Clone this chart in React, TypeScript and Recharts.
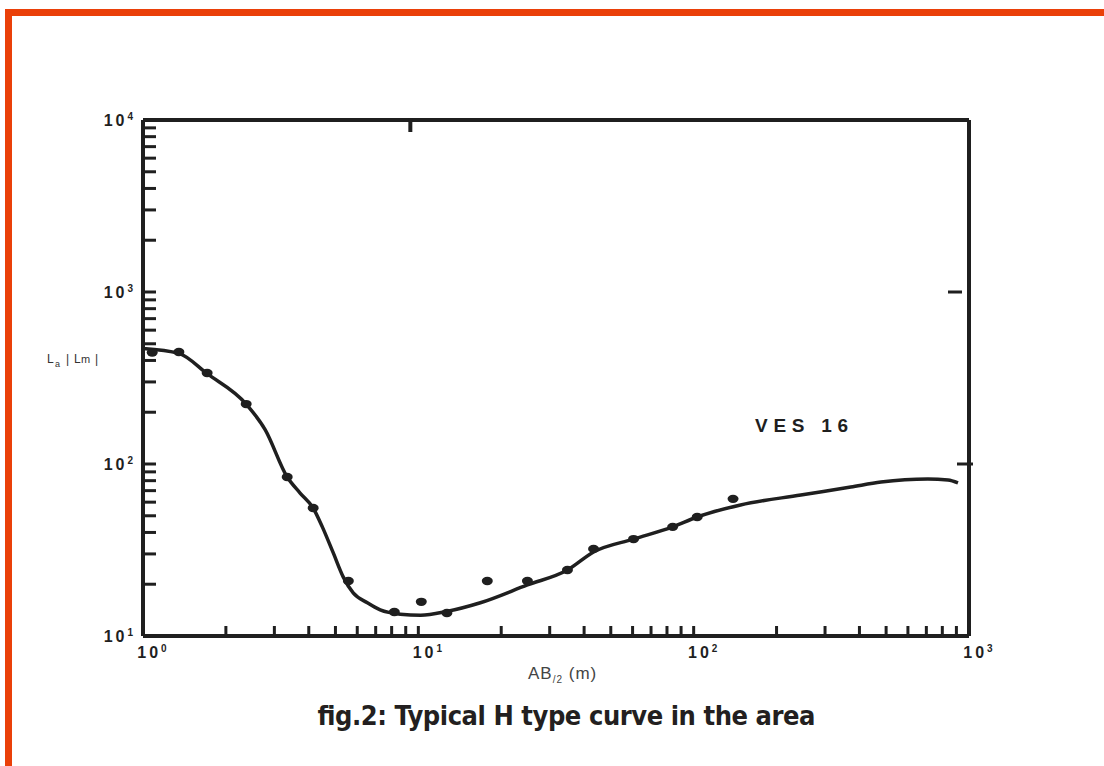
import React from 'react';
import { ComposedChart, Line, Scatter, XAxis, YAxis } from 'recharts';

// VES 16 sounding: AB/2 (m) against apparent resistivity, both on log axes

// fitted model curve
const curveAB = [1.0, 1.35, 1.71, 2.37, 2.78, 3.34, 3.72, 4.15, 4.48, 4.91, 5.34, 5.8, 6.53, 7.27, 8.6, 10.2, 12.7, 16.8, 24.9, 34.8, 43.3, 60.5, 83.9, 103, 148, 245, 372, 479, 709, 839, 912];
const curveRho = [470, 440, 335, 223, 158, 84, 67.8, 55.5, 43.1, 30.4, 22, 17.8, 15.6, 14.2, 13.4, 13.2, 13.9, 15.6, 19.8, 24.2, 30.8, 36.6, 43.1, 49.2, 57.8, 66, 73.4, 78.5, 81.8, 80.7, 77.6];

// field readings
const obsAB = [1.08, 1.35, 1.71, 2.37, 3.34, 4.15, 5.57, 8.18, 10.25, 12.7, 17.8, 24.9, 34.8, 43.3, 60.5, 83.9, 103, 139];
const obsRho = [445, 448, 338, 223, 84, 55.5, 20.9, 13.8, 15.8, 13.6, 20.9, 20.9, 24.2, 32.1, 36.6, 43.1, 49.2, 62.7];

const xTicks = [1, 2, 3, 4, 5, 6, 7, 8, 9, 10, 20, 30, 40, 50, 60, 70, 80, 90, 100, 200, 300, 400, 500, 600, 700, 800, 900, 1000];
const yTicks = [10, 20, 30, 40, 50, 60, 70, 80, 90, 100, 200, 300, 400, 500, 600, 700, 800, 900, 1000, 2000, 3000, 4000, 5000, 6000, 7000, 8000, 9000, 10000];
const xMajor = [1, 10, 100, 1000];
const xMajorLabels = ['0', '1', '2', '3'];
const yMajor = [10, 100, 1000, 10000];
const yMajorLabels = ['1', '2', '3', '4'];
const rightTicks = [100, 1000];
const topTicks = [10];

const curve = curveAB.map((x, i) => ({ x, y: curveRho[i] }));
const obs = obsAB.map((x, i) => ({ x, y: obsRho[i] }));

const ink = '#1f1f1f';
const tickFont = "'Liberation Sans', Arial, sans-serif";

const BottomTick = (props: any) => {
    const { x, y, payload } = props;
    const i = xMajor.indexOf(payload.value);
    return (
        <g>
            <line x1={x} x2={x} y1={y} y2={y - 10} stroke={ink} strokeWidth={3} />
            {i >= 0 && (
                <text x={x + 9} y={y + 22} textAnchor="middle" fontFamily={tickFont} fontWeight="bold" fill={ink}>
                    <tspan fontSize={16} letterSpacing={3}>10</tspan>
                    <tspan fontSize={10} dy={-6}>{xMajorLabels[i]}</tspan>
                </text>
            )}
        </g>
    );
};

const LeftTick = (props: any) => {
    const { x, y, payload } = props;
    const i = yMajor.indexOf(payload.value);
    return (
        <g>
            <line x1={x} x2={x + 13} y1={y} y2={y} stroke={ink} strokeWidth={3} />
            {i >= 0 && (
                <text x={x - 10} y={y + 6} textAnchor="end" fontFamily={tickFont} fontWeight="bold" fill={ink}>
                    <tspan fontSize={16} letterSpacing={3}>10</tspan>
                    <tspan fontSize={10} dy={-6}>{yMajorLabels[i]}</tspan>
                </text>
            )}
        </g>
    );
};

const RightTick = (props: any) => {
    const { x, y, payload } = props;
    // the 10^3 mark sits just inside the frame, the 10^2 mark crosses it
    const inner = payload.value === 1000;
    return (
        <line x1={inner ? x - 21 : x - 12} x2={inner ? x - 7 : x + 4} y1={y} y2={y} stroke={ink} strokeWidth={3} />
    );
};

const TopTick = (props: any) => {
    const { x, y } = props;
    return <line x1={x - 8} x2={x - 8} y1={y - 2} y2={y + 12} stroke={ink} strokeWidth={4} />;
};

const Dot = (props: any) => {
    const { cx, cy } = props;
    if (cx == null || cy == null) return <g />;
    return <ellipse cx={cx} cy={cy} rx={5.5} ry={4.2} fill={ink} />;
};

export default function App() {
    const frame = { stroke: ink, strokeWidth: 4 };
    return (
        <div style={{ position: 'absolute', left: 0, top: 0, width: 1104, height: 766, background: '#fff', overflow: 'hidden' }}>
            <div style={{ position: 'absolute', left: 5, top: 9, width: 1099, height: 7, background: '#ea4009' }} />
            <div style={{ position: 'absolute', left: 5, top: 9, width: 7, height: 757, background: '#ea4009' }} />

            <div style={{ position: 'absolute', left: 0, top: 0 }}>
                <ComposedChart width={1104} height={766} margin={{ top: 110, right: 125, bottom: 100, left: 98 }}>
                    <XAxis
                        xAxisId="b"
                        dataKey="x"
                        type="number"
                        scale="log"
                        domain={[1, 1000]}
                        allowDataOverflow
                        ticks={xTicks}
                        interval={0}
                        height={30}
                        tickSize={0}
                        tickMargin={0}
                        tickLine={false}
                        axisLine={frame}
                        tick={<BottomTick />}
                    />
                    <XAxis
                        xAxisId="t"
                        dataKey="x"
                        orientation="top"
                        type="number"
                        scale="log"
                        domain={[1, 1000]}
                        allowDataOverflow
                        ticks={topTicks}
                        interval={0}
                        height={10}
                        tickSize={0}
                        tickMargin={0}
                        tickLine={false}
                        axisLine={frame}
                        tick={<TopTick />}
                    />
                    <YAxis
                        yAxisId="l"
                        dataKey="y"
                        type="number"
                        scale="log"
                        domain={[10, 10000]}
                        allowDataOverflow
                        ticks={yTicks}
                        interval={0}
                        width={45}
                        tickSize={0}
                        tickMargin={0}
                        tickLine={false}
                        axisLine={frame}
                        tick={<LeftTick />}
                    />
                    <YAxis
                        yAxisId="r"
                        dataKey="y"
                        orientation="right"
                        type="number"
                        scale="log"
                        domain={[10, 10000]}
                        allowDataOverflow
                        ticks={rightTicks}
                        interval={0}
                        width={10}
                        tickSize={0}
                        tickMargin={0}
                        tickLine={false}
                        axisLine={frame}
                        tick={<RightTick />}
                    />
                    <Line
                        xAxisId="b"
                        yAxisId="l"
                        data={curve}
                        dataKey="y"
                        type="monotone"
                        stroke={ink}
                        strokeWidth={3.5}
                        dot={false}
                        isAnimationActive={false}
                    />
                    <Scatter
                        xAxisId="b"
                        yAxisId="l"
                        data={obs}
                        dataKey="y"
                        shape={<Dot />}
                        isAnimationActive={false}
                    />
                </ComposedChart>
            </div>

            <svg width={1104} height={766} style={{ position: 'absolute', left: 0, top: 0, pointerEvents: 'none' }}>
                <text x={47} y={363} fontFamily={tickFont} fontSize={12} fill="#333">
                    <tspan x={47}>L</tspan>
                    <tspan x={55} dy={4} fontSize={9}>a</tspan>
                    <tspan x={66} dy={-4}>|</tspan>
                    <tspan x={74}>L</tspan>
                    <tspan x={81} fontSize={11}>m</tspan>
                    <tspan x={95}>|</tspan>
                </text>
                <text x={528} y={679} fontFamily={tickFont} fontSize={17} fill="#444" letterSpacing={1}>
                    <tspan>AB</tspan>
                    <tspan fontSize={10} dy={4}>/2</tspan>
                    <tspan dy={-4}> (m)</tspan>
                </text>
                <text x={755} y={432} fontFamily={tickFont} fontSize={19} fontWeight="bold" fill={ink} textLength={93} lengthAdjust="spacing">
                    VES 16
                </text>
                <text
                    x={317}
                    y={725}
                    fontFamily="'Liberation Sans Narrow', 'DejaVu Sans Condensed', sans-serif"
                    fontSize={27}
                    fontWeight="bold"
                    fill="#231f20"
                    textLength={498}
                    lengthAdjust="spacing"
                >
                    fig.2: Typical H type curve in the area
                </text>
            </svg>
        </div>
    );
}
